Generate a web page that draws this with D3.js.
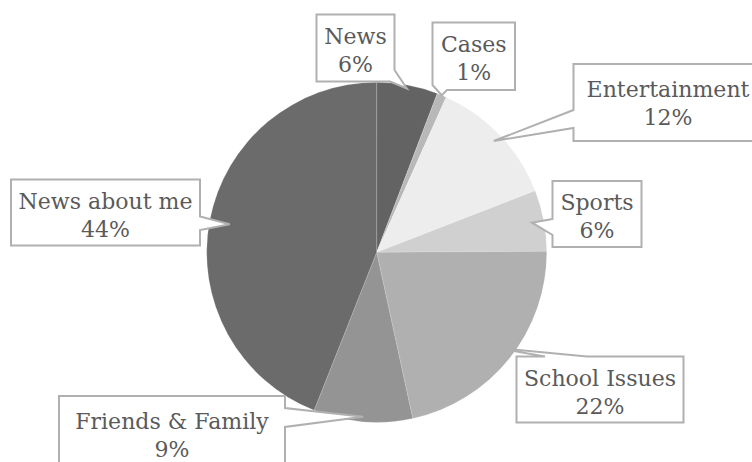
<!DOCTYPE html>
<html>
<head>
<meta charset="utf-8">
<script src="https://cdn.jsdelivr.net/npm/d3@7"></script>
<style>
  body { margin: 0; background: #fff; }
  svg { display: block; }
  .callout { fill: #fff; stroke: #b0b0b0; stroke-width: 2; }
  .label { fill: #5a5a5a; font-family: "DejaVu Serif", serif; text-anchor: middle; }
</style>
</head>
<body>
<svg id="chart" width="752" height="462"></svg>
<script>
// Slice categories and shares (percent), clockwise from 12 o'clock
const categories = ["News", "Cases", "Entertainment", "Sports", "School Issues", "Friends & Family", "News about me"];
const shares = [5.8, 0.9, 12.4, 5.8, 21.7, 9.4, 44.0];
const shareLabels = ["6%", "1%", "12%", "6%", "22%", "9%", "44%"];
const sliceColors = ["#636363", "#b8b8b8", "#ededed", "#d0d0d0", "#b0b0b0", "#949494", "#6b6b6b"];

// callout boxes: box position/size, which side the pointer leaves from, and where the tip lands
const callouts = [
    {x: 316.5, y: 14.5, w: 78, h: 67, side: "br", a: 70, b: 390, tipR: 0.98},
    {x: 432.5, y: 22.5, w: 82.5, h: 67.5, side: "bl", a: 85, b: 447, tipR: 1.0},
    {x: 573.5, y: 64, w: 200, h: 77, side: "left", a: 110, b: 128, tipR: 0.95},
    {x: 552.5, y: 181, w: 89, h: 66, side: "left", a: 219, b: 235, tipR: 0.93},
    {x: 516.5, y: 356.5, w: 167, h: 66, side: "top", a: 545, b: 587, tipR: 0.9},
    {x: 59, y: 396, w: 226, h: 77, side: "right", a: 408, b: 427, tipR: 0.97},
    {x: 11, y: 179.5, w: 189, h: 66, side: "right", a: 216.5, b: 230, tipR: 0.88}
];

const svg = d3.select("#chart");
const cx = 376.7, cy = 252.3, radius = 170;

const pie = d3.pie().sort(null).value(d => d);
const arcs = pie(shares);
const arc = d3.arc().innerRadius(0).outerRadius(radius);

const pieGroup = svg.append("g").attr("transform", `translate(${cx},${cy})`);
pieGroup.selectAll("path")
    .data(arcs)
    .enter()
    .append("path")
    .attr("d", arc)
    .attr("fill", (d, i) => sliceColors[i])
    .attr("stroke", "rgba(255,255,255,0.2)")
    .attr("stroke-width", 0.8);

function tipPoint(d, rFrac) {
    const ang = (d.startAngle + d.endAngle) / 2;
    return [cx + radius * rFrac * Math.sin(ang), cy - radius * rFrac * Math.cos(ang)];
}

function calloutPath(c, tip) {
    const x0 = c.x, y0 = c.y, x1 = c.x + c.w, y1 = c.y + c.h;
    let pts;
    if (c.side === "left") {
        pts = [[x0, y0], [x1, y0], [x1, y1], [x0, y1], [x0, c.b], tip, [x0, c.a]];
    } else if (c.side === "right") {
        pts = [[x0, y0], [x1, y0], [x1, c.a], tip, [x1, c.b], [x1, y1], [x0, y1]];
    } else if (c.side === "top") {
        pts = [[x0, y0], [c.a, y0], tip, [c.b, y0], [x1, y0], [x1, y1], [x0, y1]];
    } else if (c.side === "br") {
        pts = [[x0, y0], [x1, y0], [x1, c.a], tip, [c.b, y1], [x0, y1]];
    } else {
        // bottom-left corner
        pts = [[x0, y0], [x1, y0], [x1, y1], [c.b, y1], tip, [x0, c.a]];
    }
    return "M" + pts.map(p => p.join(",")).join("L") + "Z";
}

// measure the font so the widest label matches the picture
const probe = svg.append("text").attr("class", "label").style("font-size", "20px").text("Entertainment");
const fontSize = 20 * 163 / probe.node().getComputedTextLength();
probe.remove();

const labelGroup = svg.append("g");
callouts.forEach(function(c, i) {
    const tip = tipPoint(arcs[i], c.tipR);
    labelGroup.append("path")
        .attr("class", "callout")
        .attr("d", calloutPath(c, tip));

    const tx = c.x + c.w / 2;
    const centerX = c.x + c.w > 752 ? 668 : tx;
    const top = c.y + (c.h > 70 ? 33 : 29);
    const text = labelGroup.append("text")
        .attr("class", "label")
        .style("font-size", fontSize + "px");
    text.append("tspan").attr("x", centerX).attr("y", top).text(categories[i]);
    text.append("tspan").attr("x", centerX).attr("y", top + 28).text(shareLabels[i]);
});
</script>
</body>
</html>
